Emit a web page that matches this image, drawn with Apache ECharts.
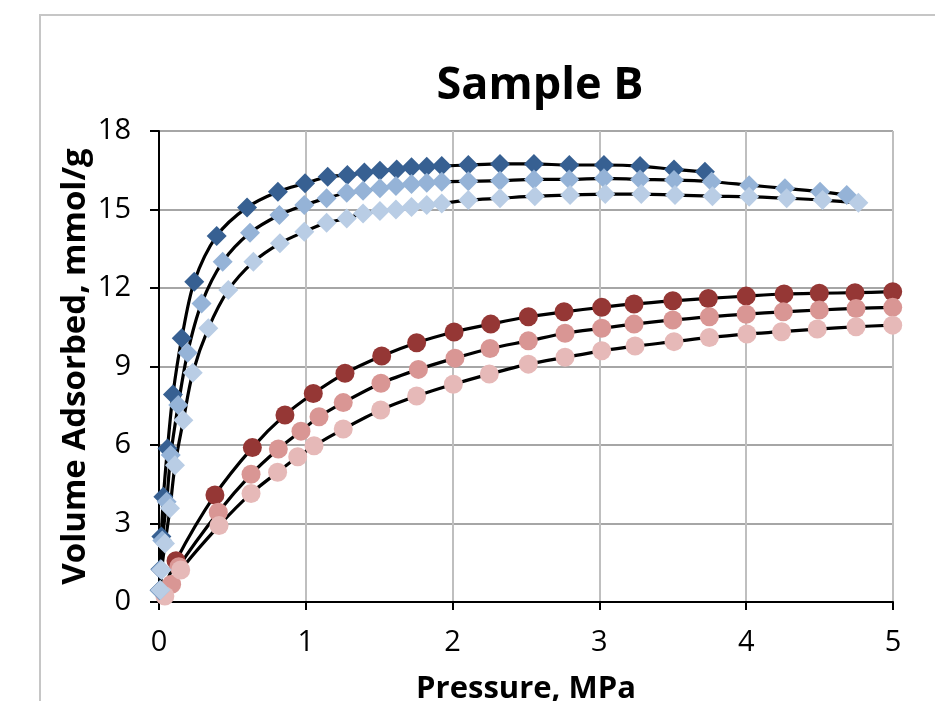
<!DOCTYPE html>
<html><head><meta charset="utf-8">
<script src="https://cdn.jsdelivr.net/npm/echarts@6/dist/echarts.min.js"></script>
<style>html,body{margin:0;padding:0;background:#fff;overflow:hidden;}#c{width:935px;height:701px;}</style>
</head><body><div id="c"></div>
<script>
const xTicks = [0, 1, 2, 3, 4, 5];
const yTicks = [0, 3, 6, 9, 12, 15, 18];
const title = 'Sample B';
const xName = 'Pressure, MPa';
const yName = 'Volume Adsorbed, mmol/g';

// Blue diamonds (dark, medium, light)
const d1P = [0.004, 0.009, 0.016, 0.03, 0.058, 0.095, 0.155, 0.24, 0.393, 0.60, 0.81, 0.995, 1.149, 1.283, 1.399, 1.505, 1.619, 1.72, 1.824, 1.926, 2.107, 2.323, 2.554, 2.795, 3.031, 3.277, 3.508, 3.719];
const d1V = [0.45, 1.25, 2.5, 4.02, 5.87, 7.93, 10.08, 12.24, 13.99, 15.08, 15.68, 16.0, 16.25, 16.32, 16.41, 16.48, 16.53, 16.61, 16.63, 16.66, 16.7, 16.74, 16.74, 16.7, 16.7, 16.66, 16.53, 16.44];
const d2P = [0.007, 0.013, 0.022, 0.052, 0.08, 0.131, 0.195, 0.29, 0.434, 0.62, 0.82, 0.99, 1.142, 1.279, 1.39, 1.505, 1.614, 1.72, 1.824, 1.926, 2.107, 2.323, 2.554, 2.795, 3.031, 3.277, 3.508, 3.765, 4.02, 4.264, 4.503, 4.685];
const d2V = [0.45, 1.25, 2.35, 3.83, 5.62, 7.53, 9.53, 11.41, 13.0, 14.11, 14.79, 15.17, 15.43, 15.64, 15.72, 15.81, 15.9, 15.97, 16.02, 16.06, 16.08, 16.1, 16.15, 16.15, 16.19, 16.15, 16.13, 16.06, 15.93, 15.81, 15.68, 15.55];
const d3P = [0.01, 0.018, 0.041, 0.075, 0.109, 0.166, 0.23, 0.336, 0.472, 0.643, 0.824, 0.99, 1.142, 1.279, 1.39, 1.505, 1.614, 1.72, 1.824, 1.926, 2.107, 2.323, 2.56, 2.8, 3.04, 3.285, 3.515, 3.77, 4.02, 4.276, 4.52, 4.764];
const d3V = [0.46, 1.22, 2.24, 3.58, 5.23, 6.95, 8.76, 10.46, 11.92, 13.0, 13.71, 14.15, 14.49, 14.66, 14.85, 14.94, 15.0, 15.1, 15.17, 15.23, 15.36, 15.43, 15.51, 15.55, 15.59, 15.59, 15.55, 15.51, 15.49, 15.43, 15.36, 15.26];

// Red circles (dark, medium, light)
const r1P = [0.116, 0.381, 0.636, 0.858, 1.051, 1.267, 1.517, 1.755, 2.01, 2.26, 2.516, 2.759, 3.016, 3.236, 3.5, 3.742, 4.0, 4.258, 4.498, 4.741, 4.998];
const r1V = [1.58, 4.09, 5.9, 7.15, 7.97, 8.74, 9.4, 9.91, 10.32, 10.62, 10.9, 11.09, 11.26, 11.39, 11.51, 11.6, 11.69, 11.77, 11.8, 11.82, 11.86];
const r2P = [0.086, 0.135, 0.404, 0.627, 0.813, 0.967, 1.09, 1.255, 1.512, 1.767, 2.016, 2.255, 2.516, 2.766, 3.016, 3.236, 3.5, 3.749, 4.0, 4.253, 4.498, 4.748, 4.998];
const r2V = [0.68, 1.35, 3.43, 4.88, 5.85, 6.53, 7.08, 7.62, 8.36, 8.89, 9.32, 9.69, 9.98, 10.27, 10.46, 10.62, 10.78, 10.9, 11.0, 11.09, 11.16, 11.22, 11.26];
const r3P = [0.04, 0.148, 0.409, 0.627, 0.808, 0.945, 1.056, 1.255, 1.51, 1.755, 2.005, 2.25, 2.516, 2.766, 3.016, 3.243, 3.508, 3.749, 4.005, 4.241, 4.484, 4.748, 4.998];
const r3V = [0.23, 1.22, 2.92, 4.15, 4.96, 5.55, 5.97, 6.61, 7.34, 7.87, 8.32, 8.71, 9.09, 9.35, 9.6, 9.78, 9.95, 10.11, 10.24, 10.33, 10.43, 10.52, 10.58];

const pair = (P, V) => P.map((p, i) => [p, V[i]]);
const sets = [
  {P: r1P, V: r1V, sym: 'circle', size: 19, color: '#953735'},
  {P: r2P, V: r2V, sym: 'circle', size: 19, color: '#D99694'},
  {P: r3P, V: r3V, sym: 'circle', size: 19, color: '#E6B9B8'},
  {P: d1P, V: d1V, sym: 'diamond', size: 20, color: '#376092'},
  {P: d2P, V: d2V, sym: 'diamond', size: 20, color: '#95B3D7'},
  {P: d3P, V: d3V, sym: 'diamond', size: 20, color: '#B9CDE5'}
];
const series = [];
sets.forEach(s => series.push({
  type: 'line', data: [[0, 0]].concat(pair(s.P, s.V)), smooth: 0.3,
  showSymbol: false, symbol: 'none', lineStyle: {color: '#000', width: 3.2}, z: 2, silent: true
}));
sets.forEach(s => series.push({
  type: 'scatter', data: pair(s.P, s.V), symbol: s.sym, symbolSize: s.size,
  itemStyle: {color: s.color, opacity: 1}, z: 3
}));

const font = 'Open Sans';
const chart = echarts.init(document.getElementById('c'), null, {renderer: 'canvas'});
chart.setOption({
  animation: false,
  backgroundColor: '#fff',
  title: {text: title, left: 535, top: 59, textAlign: 'center',
    textStyle: {fontFamily: font, fontWeight: 'bold', fontSize: 45, color: '#000'}},
  grid: {left: 159, top: 131, width: 734, height: 471, containLabel: false, outerBoundsMode: 'none'},
  xAxis: {type: 'value', min: xTicks[0], max: xTicks[xTicks.length - 1], interval: 1,
    name: xName, nameLocation: 'middle', nameGap: 72, nameMoveOverlap: false,
    nameTextStyle: {fontFamily: font, fontWeight: 'bold', fontSize: 31, color: '#000'},
    axisLine: {lineStyle: {color: '#000', width: 2}},
    axisTick: {show: true, inside: false, length: 8, lineStyle: {color: '#000', width: 2}},
    axisLabel: {fontFamily: font, fontSize: 29, color: '#000', margin: 26},
    splitLine: {show: true, lineStyle: {color: '#bfbfbf', width: 2}}},
  yAxis: {type: 'value', min: yTicks[0], max: yTicks[yTicks.length - 1], interval: 3,
    name: yName, nameLocation: 'middle', nameGap: 67, nameRotate: 90, nameMoveOverlap: false,
    nameTextStyle: {fontFamily: font, fontWeight: 'bold', fontSize: 33, color: '#000'},
    axisLine: {show: true, lineStyle: {color: '#000', width: 2}},
    axisTick: {show: true, inside: false, length: 9, lineStyle: {color: '#000', width: 2}},
    axisLabel: {fontFamily: font, fontSize: 29, color: '#000', margin: 28},
    splitLine: {show: true, lineStyle: {color: '#a6a6a6', width: 2}}},
  graphic: [{type: 'rect', shape: {x: 40, y: 15, width: 1000, height: 800},
    style: {fill: 'none', stroke: '#c6c6c6', lineWidth: 2}, silent: true, z: -1}],
  series: series
});
</script></body></html>
